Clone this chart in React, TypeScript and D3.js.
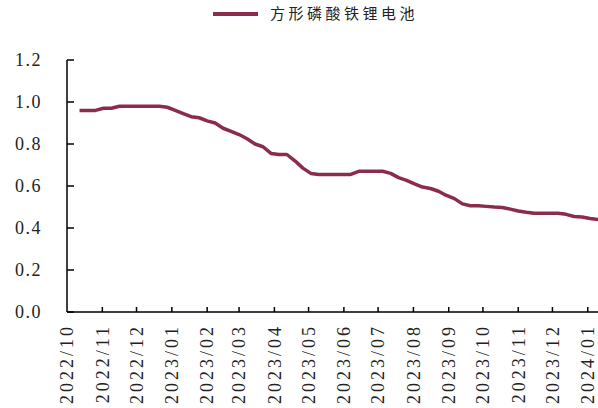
import React from 'react';
import * as d3 from 'd3';

// weekly price series, starting 2022-10-12
const startDate = new Date(2022, 9, 12);
const prices = [
  0.96, 0.96, 0.96, 0.97, 0.97, 0.98, 0.98, 0.98, 0.98, 0.98, 0.98, 0.975,
  0.96, 0.945, 0.93, 0.925, 0.91, 0.9, 0.875, 0.86, 0.845, 0.825, 0.8, 0.787,
  0.755, 0.75, 0.75, 0.72, 0.685, 0.66, 0.655, 0.655, 0.655, 0.655, 0.655, 0.67,
  0.67, 0.67, 0.67, 0.66, 0.64, 0.627, 0.61, 0.595, 0.588, 0.575, 0.555, 0.54,
  0.515, 0.506, 0.506, 0.503, 0.5, 0.498, 0.49, 0.481, 0.475, 0.47, 0.47, 0.47,
  0.47, 0.465, 0.455, 0.452, 0.445, 0.441,
];
const yTicks = [0, 0.2, 0.4, 0.6, 0.8, 1.0, 1.2];
const monthLabels = [
  '2022/10', '2022/11', '2022/12', '2023/01', '2023/02', '2023/03', '2023/04', '2023/05',
  '2023/06', '2023/07', '2023/08', '2023/09', '2023/10', '2023/11', '2023/12', '2024/01',
];
const seriesName = '方形磷酸铁锂电池';

const color = '#8b2b4e';
const serif = '"Liberation Serif", "Times New Roman", serif';

const App = () => {
  const width = 598;
  const height = 408;
  const margin = { top: 60, right: 0, bottom: 96, left: 67 };
  const plotBottom = height - margin.bottom;

  const x = d3
    .scaleTime()
    .domain([new Date(2022, 9, 1), new Date(2024, 0, 10)])
    .range([margin.left, width - margin.right]);
  const y = d3.scaleLinear().domain([0, 1.2]).range([plotBottom, margin.top]);

  const data = prices.map((v, i) => ({ date: d3.timeDay.offset(startDate, i * 7), v }));
  const line = d3
    .line<{ date: Date; v: number }>()
    .x((d) => x(d.date))
    .y((d) => y(d.v));

  const months = monthLabels.map((m) => {
    const [yy, mm] = m.split('/').map(Number);
    return { label: m, date: new Date(yy, mm - 1, 1) };
  });

  return (
    <svg width={width} height={height} style={{ position: 'absolute', left: 0, top: 0, background: '#fff' }}>
      {/* legend */}
      <line x1={213} x2={258} y1={14} y2={14} stroke={color} strokeWidth={4} />
      <text x={270} y={14} dy="0.35em" fontSize={15} letterSpacing={3.5} fontFamily='"Noto Sans CJK SC", sans-serif' fill="#222">
        {seriesName}
      </text>

      {/* y axis */}
      <line x1={margin.left} x2={margin.left} y1={margin.top} y2={plotBottom} stroke="#000" strokeWidth={1.5} />
      {yTicks.map((t) => (
        <g key={t}>
          <line x1={margin.left} x2={margin.left + 7} y1={y(t)} y2={y(t)} stroke="#000" strokeWidth={1.5} />
          <text x={42} y={y(t)} dy="0.35em" textAnchor="end" fontSize={18} letterSpacing={1.5} fontFamily={serif} fill="#222">
            {t.toFixed(1)}
          </text>
        </g>
      ))}

      {/* x axis */}
      <line x1={margin.left} x2={width} y1={plotBottom} y2={plotBottom} stroke="#000" strokeWidth={1.5} />
      {months.map((m, i) => (
        <g key={m.label}>
          {i > 0 && (
            <line x1={x(m.date)} x2={x(m.date)} y1={plotBottom} y2={plotBottom - 5} stroke="#000" strokeWidth={1.5} />
          )}
          <text
            transform={`translate(${x(m.date)},${plotBottom + 12}) rotate(-90)`}
            dy="0.35em"
            textAnchor="end"
            fontSize={18}
            letterSpacing={3}
            fontFamily={serif}
            fill="#222"
          >
            {m.label}
          </text>
        </g>
      ))}

      <path d={line(data) ?? ''} fill="none" stroke={color} strokeWidth={3.5} strokeLinejoin="round" />
    </svg>
  );
};

export default App;
